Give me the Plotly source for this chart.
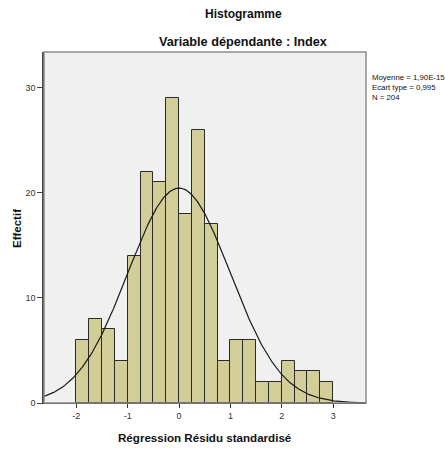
import numpy as np
import plotly.graph_objects as go

bin_starts = [-2.0, -1.75, -1.5, -1.25, -1.0, -0.75, -0.5, -0.25, 0.0, 0.25,
              0.5, 0.75, 1.0, 1.25, 1.5, 1.75, 2.0, 2.25, 2.5, 2.75]
counts = [6, 8, 7, 4, 14, 22, 21, 29, 18, 26, 17, 4, 6, 6, 2, 2, 4, 3, 3, 2]
bin_width = 0.25
mean = 1.90e-15
std = 0.995
n = 204
x_ticks = [-2, -1, 0, 1, 2, 3]
y_ticks = [0, 10, 20, 30]

x_range = [-2.63, 3.64]
y_range = [0, 33.4]

centers = [b + bin_width / 2 for b in bin_starts]

xc = np.linspace(x_range[0], x_range[1], 400)
yc = n * bin_width / (std * np.sqrt(2 * np.pi)) * np.exp(-0.5 * ((xc - mean) / std) ** 2)

fig = go.Figure()
fig.add_trace(go.Bar(
    x=centers, y=counts, width=bin_width,
    marker=dict(color="#d3ce97", line=dict(color="#2b2b2b", width=1)),
    hoverinfo="x+y", showlegend=False,
))
fig.add_trace(go.Scatter(
    x=xc, y=yc, mode="lines", line=dict(color="#1a1a1a", width=1.2),
    showlegend=False, hoverinfo="skip",
))

font = "Liberation Sans, Arial, sans-serif"
L, R, T, B = 44, 79, 52, 46
W, H = 445, 449
pw = W - L - R
ph = H - T - B


def px(x):
    return (x - L) / pw


def py(y):
    return (H - y - B) / ph


fig.update_layout(
    width=W, height=H,
    margin=dict(l=L, r=R, t=T, b=B),
    paper_bgcolor="white", plot_bgcolor="#f0f0f0",
    bargap=0,
    font=dict(family=font, size=9, color="#333"),
    xaxis=dict(range=x_range, tickvals=x_ticks, ticktext=[str(t) for t in x_ticks],
               showgrid=False, zeroline=False, showline=True, linecolor="#333",
               linewidth=1, ticks="outside", ticklen=4, tickcolor="#333",
               tickfont=dict(size=9, color="#333")),
    yaxis=dict(range=y_range, tickvals=y_ticks, showgrid=False, zeroline=False,
               showline=True, linecolor="#444", linewidth=1.5, ticks="outside",
               ticklen=5, tickcolor="#444", tickfont=dict(size=9, color="#333")),
    shapes=[dict(type="rect", xref="paper", yref="paper", x0=0, y0=0, x1=1, y1=1,
                 line=dict(color="#8a8a8a", width=1.5), fillcolor="rgba(0,0,0,0)",
                 layer="above")],
    annotations=[
        dict(text="<b>Histogramme</b>", x=px(243), y=py(14), xref="paper", yref="paper",
             xanchor="center", yanchor="middle",
             showarrow=False, font=dict(size=12, color="#111", family=font)),
        dict(text="<b>Variable dépendante : Index</b>", x=px(243), y=py(42),
             xref="paper", yref="paper", xanchor="center", yanchor="middle",
             showarrow=False, font=dict(size=12.7, color="#111", family=font)),
        dict(text="<b>Régression Résidu standardisé</b>", x=px(205), y=py(437),
             xref="paper", yref="paper", xanchor="center", yanchor="middle",
             showarrow=False, font=dict(size=11.6, color="#111", family=font)),
        dict(text="<b>Effectif</b>", x=px(17), y=py(228), textangle=-90,
             xref="paper", yref="paper", xanchor="center", yanchor="middle",
             showarrow=False, font=dict(size=11.5, color="#111", family=font)),
        dict(text="Moyenne = 1,90E-15<br>Ecart type = 0,995<br>N = 204",
             x=px(370), y=py(71), xref="paper", yref="paper",
             xanchor="left", yanchor="top", align="left",
             showarrow=False, font=dict(size=7.8, color="#111", family=font)),
    ],
)

fig.write_html("out.html")
